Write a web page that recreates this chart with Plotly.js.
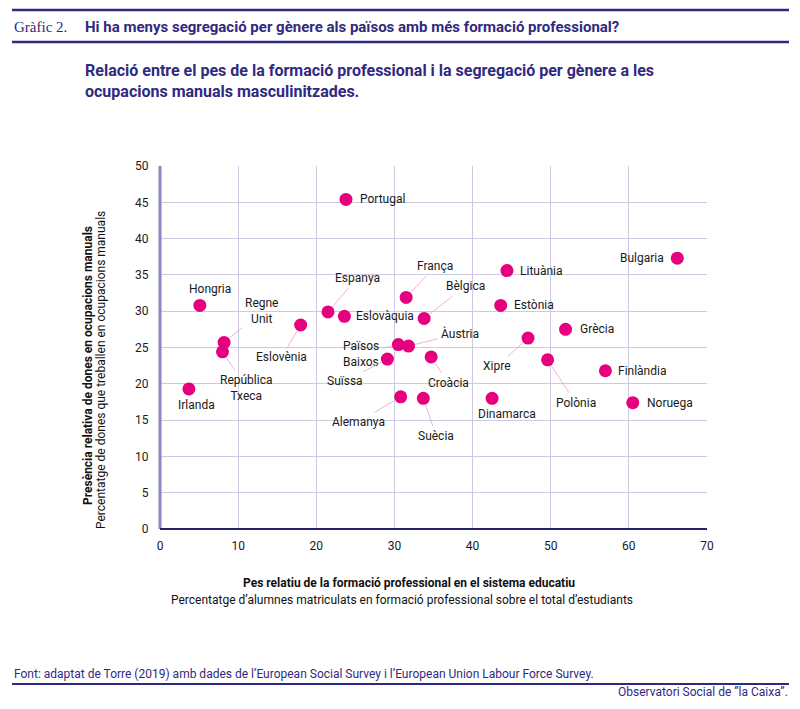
<!DOCTYPE html>
<html>
<head>
<meta charset="utf-8">
<script src="https://cdn.plot.ly/plotly-3.0.1.min.js"></script>
<style>
  body { margin: 0; background: #fff; }
  #chart { width: 800px; height: 709px; }
</style>
</head>
<body>
<div id="chart"></div>
<script>
// dades llegides del gràfic
let countries = ["Portugal", "Hongria", "Regne Unit", "República Txeca", "Irlanda", "Eslovènia",
    "Espanya", "Eslovàquia", "França", "Bèlgica", "Països Baixos", "Àustria", "Suïssa", "Croàcia",
    "Alemanya", "Suècia", "Lituània", "Estònia", "Xipre", "Grècia", "Polònia", "Dinamarca",
    "Finlàndia", "Noruega", "Bulgaria"];
let fp_share = [23.8, 5.1, 8.2, 8.0, 3.7, 18.0, 21.5, 23.6, 31.5, 33.8, 30.5, 31.8, 29.1, 34.7,
    30.8, 33.7, 44.4, 43.6, 47.1, 51.9, 49.6, 42.5, 57.0, 60.5, 66.2];
let women_share = [45.4, 30.8, 25.7, 24.4, 19.3, 28.1, 29.9, 29.3, 31.9, 29.0, 25.4, 25.2, 23.4, 23.7,
    18.2, 18.0, 35.6, 30.8, 26.3, 27.5, 23.3, 18.0, 21.8, 17.4, 37.3];
let x_ticks = [0, 10, 20, 30, 40, 50, 60, 70];
let y_ticks = [0, 5, 10, 15, 20, 25, 30, 35, 40, 45, 50];

// on va cada etiqueta (desplaçament en píxels, amb o sense línia)
let label_pos = {
    "Portugal":        { text: "Portugal", dx: 12, dy: 0, anchor: "left" },
    "Hongria":         { text: "Hongria", dx: 10, dy: 16, anchor: "center" },
    "Regne Unit":      { text: "Regne<br>Unit", dx: 38, dy: -31, line: true },
    "República Txeca": { text: "República<br>Txeca", dx: 24, dy: 36, line: true },
    "Irlanda":         { text: "Irlanda", dx: 8, dy: -16, anchor: "center" },
    "Eslovènia":       { text: "Eslovènia", dx: -19, dy: 32, line: true },
    "Espanya":         { text: "Espanya", dx: 29, dy: -34, line: true },
    "Eslovàquia":      { text: "Eslovàquia", dx: 10, dy: 0, anchor: "left" },
    "França":          { text: "França", dx: 29, dy: -31, line: true },
    "Bèlgica":         { text: "Bèlgica", dx: 41, dy: -32, line: true },
    "Països Baixos":   { text: "Països<br>Baixos", dx: -37, dy: 9, line: true, align: "left" },
    "Àustria":         { text: "Àustria", dx: 52, dy: -13, line: true },
    "Suïssa":          { text: "Suïssa", dx: -42, dy: 22, line: true },
    "Croàcia":         { text: "Croàcia", dx: 17, dy: 26, line: true },
    "Alemanya":        { text: "Alemanya", dx: -42, dy: 25, line: true },
    "Suècia":          { text: "Suècia", dx: 13, dy: 38, line: true },
    "Lituània":        { text: "Lituània", dx: 11, dy: 0, anchor: "left" },
    "Estònia":         { text: "Estònia", dx: 11, dy: 0, anchor: "left" },
    "Xipre":           { text: "Xipre", dx: -31, dy: 28, line: true },
    "Grècia":          { text: "Grècia", dx: 12, dy: 0, anchor: "left" },
    "Polònia":         { text: "Polònia", dx: 28, dy: 43, line: true },
    "Dinamarca":       { text: "Dinamarca", dx: 15, dy: -16, anchor: "center" },
    "Finlàndia":       { text: "Finlàndia", dx: 11, dy: 0, anchor: "left" },
    "Noruega":         { text: "Noruega", dx: 12, dy: 0, anchor: "left" },
    "Bulgaria":        { text: "Bulgaria", dx: -11, dy: 0, anchor: "right" }
};

let purple = "#2f2a80";
let magenta = "#e5007d";
let label_font = { family: "Roboto, Arial, sans-serif", size: 12, color: "#1a1a1a" };
let head_font = "'Liberation Sans Narrow', 'Arial Narrow', Roboto, sans-serif";

// píxels de la pàgina -> coordenades paper
let L = 160, R = 707, T = 166, B = 529;
function px(x) { return (x - L) / (R - L); }
function py(y) { return (B - y) / (B - T); }

let annotations = [];

countries.forEach(function (c, i) {
    let p = label_pos[c];
    if (p.line) {
        annotations.push({
            x: fp_share[i], y: women_share[i], text: p.text,
            showarrow: true, arrowhead: 0, arrowwidth: 0.8, arrowcolor: "#f19ac6",
            standoff: 7, startstandoff: 2, ax: p.dx, ay: p.dy,
            align: p.align || "center", font: label_font
        });
    } else {
        annotations.push({
            x: fp_share[i], y: women_share[i], text: p.text, showarrow: false,
            xanchor: p.anchor, xshift: p.dx, yshift: p.dy, font: label_font
        });
    }
});

function txt(x, y, text, opts) {
    annotations.push(Object.assign({
        xref: "paper", yref: "paper", x: px(x), y: py(y), text: text,
        showarrow: false, xanchor: "left", yanchor: "middle"
    }, opts));
}

// capçalera
txt(12, 27, "Gràfic 2.", { font: { family: "'Liberation Serif', serif", size: 15, color: purple } });
txt(83, 27, "<b>Hi ha menys segregació per gènere als països amb més formació professional?</b>",
    { font: { family: head_font, size: 15, color: purple } });
txt(83, 81, "<b>Relació entre el pes de la formació professional i la segregació per gènere a les<br>ocupacions manuals masculinitzades.</b>",
    { align: "left", font: { family: head_font, size: 16, color: purple } });

// títols dels eixos
txt(88, 366, "<b>Presència relativa de dones en ocupacions manuals</b>",
    { xanchor: "center", textangle: -90, font: { family: head_font, size: 12, color: "#111" } });
txt(101, 370, "Percentatge de dones que treballen en ocupacions manuals",
    { xanchor: "center", textangle: -90, font: { family: head_font, size: 12, color: "#111" } });
txt(409, 583, "<b>Pes relatiu de la formació professional en el sistema educatiu</b>",
    { xanchor: "center", font: { family: head_font, size: 12, color: "#111" } });
txt(402, 600, "Percentatge d’alumnes matriculats en formació professional sobre el total d’estudiants",
    { xanchor: "center", font: { family: head_font, size: 12, color: "#111" } });

// peu
txt(12, 674, "Font: adaptat de Torre (2019) amb dades de l’European Social Survey i l’European Union Labour Force Survey.",
    { font: { family: head_font, size: 12, color: purple } });
txt(790, 692, "Observatori Social de ”la Caixa”.",
    { xanchor: "right", font: { family: head_font, size: 12, color: purple } });

let hline = function (y, w) {
    return { type: "line", xref: "paper", yref: "paper", x0: px(12), x1: px(789), y0: py(y), y1: py(y),
        line: { color: purple, width: w } };
};

let shapes = [
    hline(10, 2.5), hline(42, 2.5), hline(684, 2),
    { type: "line", xref: "paper", yref: "paper", x0: 0, x1: 0, y0: 0, y1: 1,
      line: { color: "#8c86c4", width: 3 } },
    { type: "line", xref: "paper", yref: "paper", x0: 0, x1: 1, y0: 0, y1: 0,
      line: { color: "#27246a", width: 2 } }
];

let trace = {
    x: fp_share, y: women_share, text: countries,
    mode: "markers", type: "scatter",
    marker: { color: magenta, size: 13 },
    hoverinfo: "text"
};

let layout = {
    width: 800, height: 709,
    margin: { l: L, r: 800 - R, t: T, b: 709 - B },
    paper_bgcolor: "#fff", plot_bgcolor: "#fff",
    showlegend: false,
    xaxis: {
        range: [0, 70], tickvals: x_ticks, showgrid: true, gridcolor: "#cdc9e3", gridwidth: 1,
        zeroline: false, showline: false, ticks: "outside", ticklen: 6, tickcolor: "rgba(0,0,0,0)",
        tickfont: { family: "Roboto, Arial, sans-serif", size: 12, color: "#1a1a1a" }
    },
    yaxis: {
        range: [0, 50], tickvals: y_ticks, showgrid: true, gridcolor: "#cdc9e3", gridwidth: 1,
        zeroline: false, showline: false, ticks: "outside", ticklen: 8, tickcolor: "rgba(0,0,0,0)",
        tickfont: { family: "Roboto, Arial, sans-serif", size: 12, color: "#1a1a1a" }
    },
    shapes: shapes,
    annotations: annotations
};

Plotly.newPlot("chart", [trace], layout, { staticPlot: true });
</script>
</body>
</html>
